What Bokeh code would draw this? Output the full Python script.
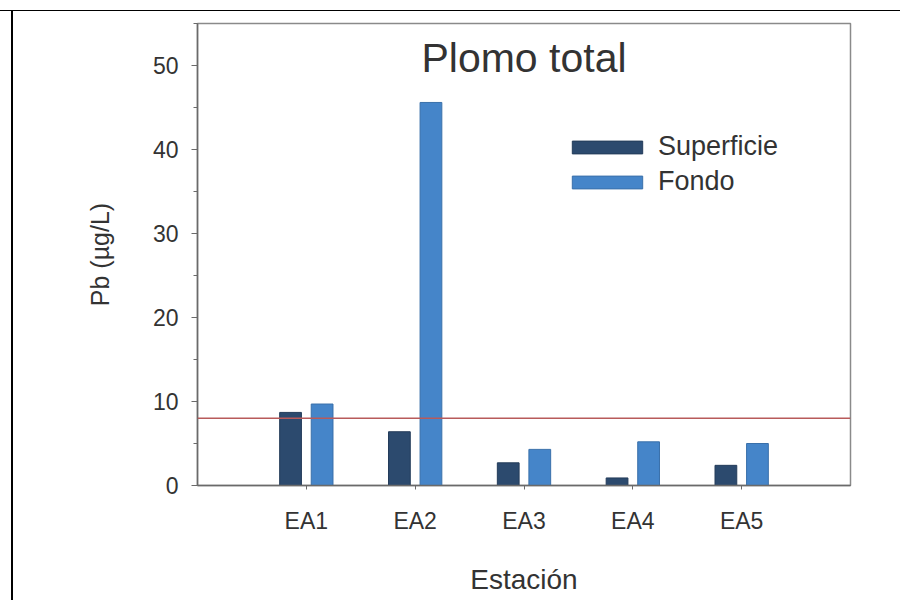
import numpy as np
from bokeh.plotting import figure
from bokeh.models import (ColumnDataSource, Range1d, FixedTicker, Span, Legend,
                          LegendItem, Label, InlineStyleSheet)
from bokeh.transform import dodge
from bokeh.embed import file_html
from bokeh.resources import INLINE

# ---- data ----
estaciones = ["EA1", "EA2", "EA3", "EA4", "EA5"]
superficie = [8.7, 6.4, 2.7, 0.9, 2.4]
fondo = [9.7, 45.6, 4.3, 5.2, 5.0]
limite = 8.0
y_ticks = [0, 10, 20, 30, 40, 50]

titulo = "Plomo total"
y_label = "Pb (µg/L)"
x_label = "Estación"

FONT = "Liberation Sans"
TXT = "#333333"
AX = "#6a6a6a"

pos = list(range(1, len(estaciones) + 1))
src = ColumnDataSource(dict(x=pos, sup=superficie, fon=fondo))

# table borders of the original scanned page, drawn with CSS
bordes = InlineStyleSheet(css="""
:host { position: relative; }
:host::before { content: ""; position: absolute; left: 11px; top: 9.5px;
  width: 2px; height: 590px; background: #000; z-index: 10; }
:host::after { content: ""; position: absolute; left: 0px; top: 9.5px;
  width: 900px; height: 1.5px; background: #000; z-index: 10; }
""")

p = figure(width=900, height=600, output_backend="svg", toolbar_location=None,
           x_range=Range1d(0, len(estaciones) + 1), y_range=Range1d(0, 55),
           min_border_left=197, min_border_right=50, min_border_top=23,
           min_border_bottom=115, stylesheets=[bordes])
p.background_fill_color = "white"
p.border_fill_color = "white"
p.grid.visible = False
p.outline_line_color = "#8a8a8a"
p.outline_line_width = 1.5

r_sup = p.vbar(x=dodge("x", -0.145, range=p.x_range), top="sup", width=0.2,
               source=src, fill_color="#2c4a6e", line_color="#243c5a", line_width=1)
r_fon = p.vbar(x=dodge("x", 0.145, range=p.x_range), top="fon", width=0.2,
               source=src, fill_color="#4585c9", line_color="#3a70aa", line_width=1)

p.add_layout(Span(location=limite, dimension="width", line_color="#b85a5a",
                  line_width=1.5))

# axes
p.xaxis.ticker = FixedTicker(ticks=pos)
p.xaxis.major_label_overrides = {i: s for i, s in zip(pos, estaciones)}
p.yaxis.ticker = FixedTicker(ticks=y_ticks,
                             minor_ticks=[v + 5 for v in y_ticks])
for ax in (p.xaxis[0], p.yaxis[0]):
    ax.axis_line_color = AX
    ax.axis_line_width = 1.5
    ax.major_tick_line_color = AX
    ax.minor_tick_line_color = AX
    ax.major_tick_in = 0
    ax.minor_tick_in = 0
    ax.major_label_text_font = FONT
    ax.major_label_text_color = TXT
    ax.axis_label_text_font = FONT
    ax.axis_label_text_color = TXT
    ax.axis_label_text_font_style = "normal"
p.xaxis.major_tick_out = 4
p.xaxis.minor_tick_line_color = None
p.yaxis.major_tick_out = 6
p.yaxis.minor_tick_out = 4
p.xaxis.major_label_text_font_size = "23px"
p.yaxis.major_label_text_font_size = "23px"
p.xaxis.major_label_standoff = 18
p.yaxis.major_label_standoff = 13
p.xaxis.axis_label = x_label
p.yaxis.axis_label = y_label
p.xaxis.axis_label_text_font_size = "28px"
p.yaxis.axis_label_text_font_size = "25px"
p.xaxis.axis_label_standoff = 27
p.yaxis.axis_label_standoff = 36

# title inside the plot
p.add_layout(Label(x=(len(estaciones) + 1) / 2, y=50.9, text=titulo,
                   text_align="center", text_baseline="middle",
                   text_font=FONT, text_font_size="41px", text_color=TXT))

legend = Legend(items=[LegendItem(label="Superficie", renderers=[r_sup]),
                       LegendItem(label="Fondo", renderers=[r_fon])],
                location=(366, 288), orientation="vertical",
                glyph_width=88, glyph_height=16, label_standoff=7,
                label_text_font=FONT, label_text_font_size="27px",
                label_text_color=TXT, spacing=4, padding=0, margin=0,
                border_line_color=None, background_fill_alpha=0)
p.add_layout(legend)

open("out.html", "w").write(file_html(p, INLINE))
